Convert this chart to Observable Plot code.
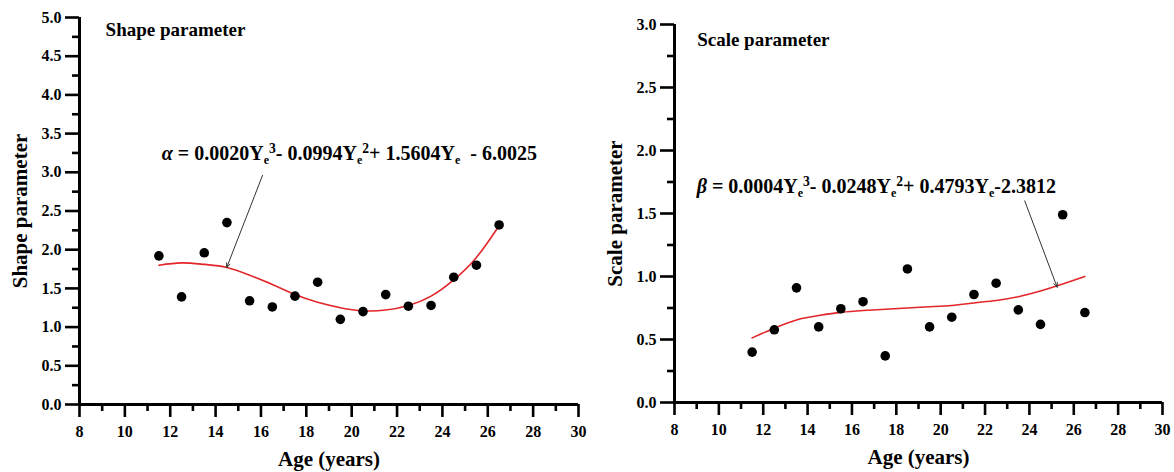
<!DOCTYPE html>
<html>
<head>
<meta charset="utf-8">
<script src="https://cdn.jsdelivr.net/npm/d3@7"></script>
<script src="https://cdn.jsdelivr.net/npm/@observablehq/plot@0.6"></script>
<style>
  html, body { margin: 0; padding: 0; background: #fff; }
  #wrap { display: flex; width: 1174px; height: 472px; }
  #wrap svg { display: block; }
  #wrap svg text, #wrap svg tspan { font-family: "Liberation Serif", "Times New Roman", "DejaVu Serif", serif !important; font-weight: bold; }
</style>
</head>
<body>
<div id="wrap"></div>
<script>
// ---- data ----
const ages = [11.5, 12.5, 13.5, 14.5, 15.5, 16.5, 17.5, 18.5, 19.5, 20.5, 21.5, 22.5, 23.5, 24.5, 25.5, 26.5];
const shapeObserved = [1.92, 1.39, 1.96, 2.35, 1.34, 1.26, 1.40, 1.58, 1.10, 1.20, 1.42, 1.27, 1.28, 1.645, 1.80, 2.32];
const shapeFitted   = [1.80, 1.83, 1.81, 1.77, 1.67, 1.55, 1.42, 1.32, 1.25, 1.21, 1.22, 1.28, 1.40, 1.61, 1.90, 2.31];
const scaleObserved = [0.40, 0.577, 0.91, 0.60, 0.744, 0.80, 0.37, 1.06, 0.60, 0.677, 0.857, 0.947, 0.735, 0.62, 1.49, 0.714];
const scaleFitted   = [0.513, 0.59, 0.655, 0.69, 0.715, 0.73, 0.74, 0.75, 0.76, 0.77, 0.79, 0.81, 0.84, 0.885, 0.94, 1.00];

const xMajorTicks = [8, 10, 12, 14, 16, 18, 20, 22, 24, 26, 28, 30];
const xMinorTicks = [9, 11, 13, 15, 17, 19, 21, 23, 25, 27, 29];
const shapeMajorTicks = [0, 0.5, 1, 1.5, 2, 2.5, 3, 3.5, 4, 4.5, 5];
const shapeMinorTicks = [0.25, 0.75, 1.25, 1.75, 2.25, 2.75, 3.25, 3.75, 4.25, 4.75];
const scaleMajorTicks = [0, 0.5, 1, 1.5, 2, 2.5, 3];
const scaleMinorTicks = [0.25, 0.75, 1.25, 1.75, 2.25, 2.75];

// annotations (data coordinates)
const shapeArrow = [{x1: 16.07, y1: 2.96, x2: 14.49, y2: 1.77}];
const scaleArrow = [{x1: 23.79, y1: 1.60, x2: 25.25, y2: 0.915}];

const FONT = "'Liberation Serif', 'Times New Roman', serif";
const RED = "#e3262a";
const TW = 2.6; // tick stroke width

function panel({obs, fit, yDomain, yMajor, yMinor, yLabel, yLabelX, title, titlePos, arrow, margins}) {
  const pts = ages.map((a, i) => ({age: a, v: obs[i]}));
  const fitPts = ages.map((a, i) => ({age: a, v: fit[i]}));
  const x0 = 8, y0 = yDomain[0];
  return Plot.plot({
    width: 587, height: 472,
    ...margins,
    x: {domain: [8, 30]},
    y: {domain: yDomain},
    style: "font-family: 'Liberation Serif', serif; font-weight: bold; color: #000; background: #fff; overflow: visible;",
    marks: [
      // tick labels
      Plot.axisY({ticks: yMajor, tickSize: 0, tickPadding: 18, tickFormat: d => d.toFixed(1), fontSize: 16, fontWeight: "bold", label: null}),
      Plot.axisX({ticks: xMajorTicks, tickSize: 0, tickPadding: 21, tickFormat: d => String(d), fontSize: 16, fontWeight: "bold", label: null}),
      // tick marks (outward)
      Plot.ruleY(yMajor, {y: d => d, x1: x0, x2: x0, insetLeft: -14, stroke: "#000", strokeWidth: TW}),
      Plot.ruleY(yMinor, {y: d => d, x1: x0, x2: x0, insetLeft: -7, stroke: "#000", strokeWidth: TW}),
      Plot.ruleX(xMajorTicks, {x: d => d, y1: y0, y2: y0, insetTop: 13, stroke: "#000", strokeWidth: TW}),
      Plot.ruleX(xMinorTicks, {x: d => d, y1: y0, y2: y0, insetTop: 7, stroke: "#000", strokeWidth: TW}),
      // axis lines
      Plot.ruleX([x0], {strokeWidth: 3}),
      Plot.ruleY([y0], {strokeWidth: 3}),
      Plot.text([yLabel], {frameAnchor: "left", textAnchor: "middle", lineAnchor: "middle", dx: -margins.marginLeft + yLabelX, rotate: -90, fontSize: 21, fontWeight: "bold", text: d => d}),
      Plot.text(["Age (years)"], {frameAnchor: "bottom", textAnchor: "middle", lineAnchor: "middle", dy: 55, fontSize: 21, fontWeight: "bold", text: d => d}),
      Plot.text([title], {x: titlePos[0], y: titlePos[1], textAnchor: "start", fontSize: 19, fontWeight: "bold", text: d => d}),
      Plot.line(fitPts, {x: "age", y: "v", stroke: RED, strokeWidth: 1.6, curve: "natural"}),
      Plot.arrow(arrow, {x1: "x1", y1: "y1", x2: "x2", y2: "y2", stroke: "#333", strokeWidth: 1, headLength: 7, headAngle: 45}),
      Plot.dot(pts, {x: "age", y: "v", r: 4.8, fill: "#000"})
    ]
  });
}

function addEquation(plot, sym, parts, xv, yv, size) {
  const sx = plot.scale("x"), sy = plot.scale("y");
  const t = d3.select(plot).append("text")
    .attr("x", sx.apply(xv)).attr("y", sy.apply(yv))
    .attr("text-anchor", "start")
    .attr("font-family", FONT).attr("font-weight", "bold").attr("font-size", size).attr("fill", "#000");
  t.append("tspan").attr("font-style", "italic").text(sym);
  for (const p of parts) {
    const s = t.append("tspan").text(p.t);
    if (p.sub) s.attr("font-size", size * 0.6).attr("dy", p.dy);
    if (p.sup) s.attr("font-size", size * 0.68).attr("dy", p.dy);
    if (p.back) s.attr("dy", p.dy);
  }
}

const wrap = document.getElementById("wrap");

const left = panel({
  obs: shapeObserved, fit: shapeFitted, yDomain: [0, 5],
  yMajor: shapeMajorTicks, yMinor: shapeMinorTicks,
  yLabel: "Shape parameter", yLabelX: 20, title: "Shape parameter", titlePos: [9.15, 4.84],
  arrow: shapeArrow,
  margins: {marginLeft: 79, marginRight: 9, marginTop: 17, marginBottom: 68}
});
wrap.appendChild(left);

const right = panel({
  obs: scaleObserved, fit: scaleFitted, yDomain: [0, 3],
  yMajor: scaleMajorTicks, yMinor: scaleMinorTicks,
  yLabel: "Scale parameter", yLabelX: 28, title: "Scale parameter", titlePos: [9.02, 2.88],
  arrow: scaleArrow,
  margins: {marginLeft: 87, marginRight: 12, marginTop: 24, marginBottom: 70}
});
wrap.appendChild(right);

const eqSize = 20;
addEquation(left, "α", [
  {t: " = 0.0020Y"}, {t: "e", sub: true, dy: 4}, {t: "3", sup: true, dy: -11}, {t: "- 0.0994Y", back: true, dy: 7},
  {t: "e", sub: true, dy: 4}, {t: "2", sup: true, dy: -11}, {t: "+ 1.5604Y", back: true, dy: 7},
  {t: "e", sub: true, dy: 4}, {t: "  - 6.0025", back: true, dy: -4}
], 11.65, 3.15, eqSize);

addEquation(right, "β", [
  {t: " = 0.0004Y"}, {t: "e", sub: true, dy: 4}, {t: "3", sup: true, dy: -11}, {t: "- 0.0248Y", back: true, dy: 7},
  {t: "e", sub: true, dy: 4}, {t: "2", sup: true, dy: -11}, {t: "+ 0.4793Y", back: true, dy: 7},
  {t: "e", sub: true, dy: 4}, {t: "-2.3812", back: true, dy: -4}
], 9.02, 1.66, eqSize);
</script>
</body>
</html>
